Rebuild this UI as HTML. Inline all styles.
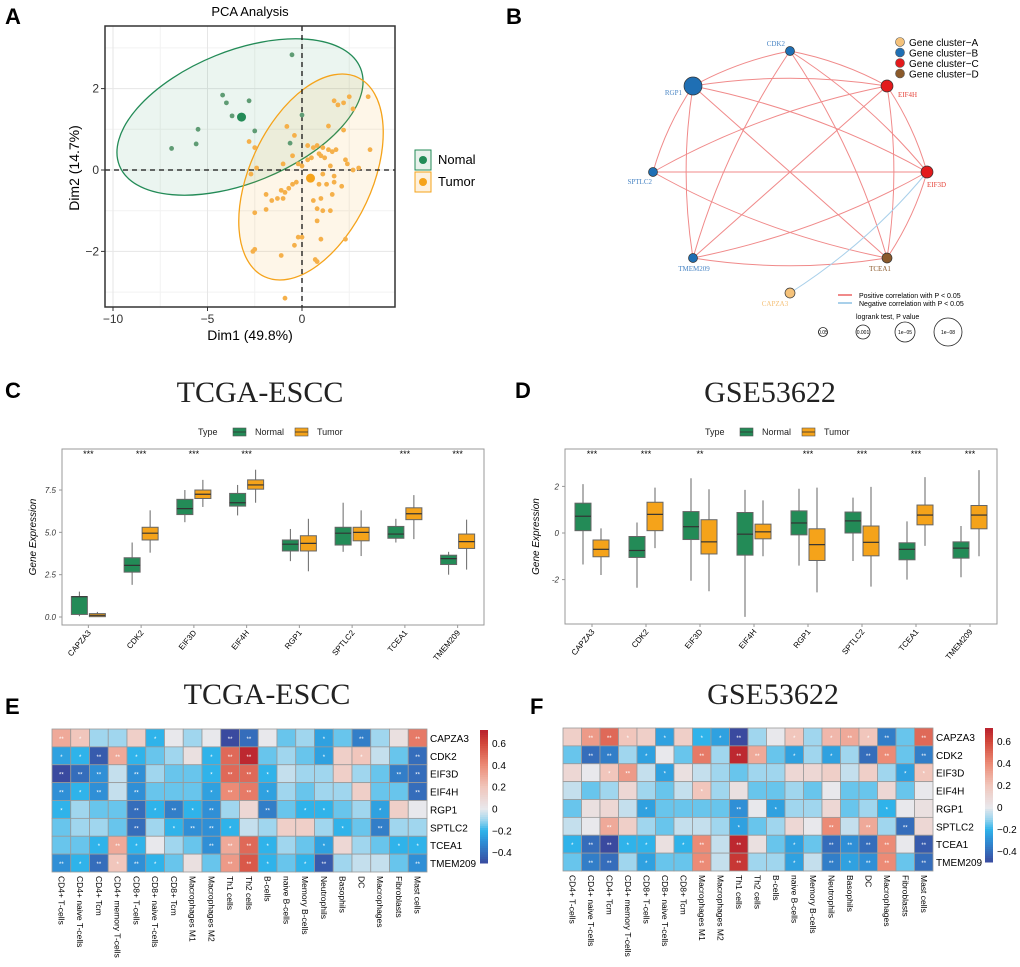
<!DOCTYPE html>
<html><head><meta charset="utf-8"><title>Multi-panel figure</title>
<style>
html,body{margin:0;padding:0;background:#fff;}
svg{display:block;font-family:"Liberation Sans",sans-serif;}
</style></head>
<body>
<svg id="fig" width="1020" height="967" viewBox="0 0 1020 967" xmlns="http://www.w3.org/2000/svg"></svg>
<script>
// ---------- Panel A data ----------
const pcaNormal = [[-0.53,2.83],[-4.2,1.84],[-4.0,1.65],[-2.8,1.7],[-3.7,1.33],[-5.5,1.0],[-6.9,0.53],[-5.6,0.64],[-2.5,0.96],[-0.63,0.66],[0.0,1.35]];
const pcaTumor = [[1.7,1.7],[2.5,1.8],[3.5,1.8],[1.9,1.6],[2.2,1.65],[2.7,1.5],[-0.8,1.07],[1.4,1.08],[2.2,0.98],[-0.4,0.85],[-2.8,0.7],[-2.5,0.55],[-0.5,0.35],[0.8,0.6],[1.1,0.55],[1.4,0.5],[1.6,0.45],[1.8,0.5],[3.6,0.5],[0.3,0.6],[0.6,0.55],[0.9,0.4],[1.0,0.35],[1.2,0.3],[0.5,0.3],[0.3,0.25],[2.3,0.25],[2.4,0.15],[-0.2,0.15],[0.0,0.1],[-1.0,0.15],[-2.4,0.05],[1.5,0.1],[2.7,0.0],[3.0,0.05],[-2.7,-0.1],[-0.3,-0.3],[1.1,-0.1],[1.7,-0.15],[0.9,-0.35],[1.3,-0.35],[1.7,-0.3],[2.1,-0.4],[-0.5,-0.35],[-0.7,-0.45],[-0.9,-0.55],[-1.1,-0.5],[-1.9,-0.6],[-1.0,-0.7],[-1.3,-0.7],[-1.6,-0.75],[0.6,-0.75],[1.0,-0.7],[1.6,-0.6],[0.8,-0.95],[1.1,-1.0],[1.5,-1.0],[-2.5,-1.05],[-1.9,-0.97],[0.8,-1.25],[0.0,-1.65],[-0.2,-1.65],[1.0,-1.7],[2.3,-1.7],[-0.4,-1.85],[-2.5,-1.95],[-2.6,-2.0],[-1.1,-2.1],[0.7,-2.2],[0.8,-2.25],[-0.9,-3.15]];
const pcaCentroids = [[-3.2,1.3],[0.45,-0.2]];
const pcaXTicks = [-10,-5,0];
const pcaYTicks = [-2,0,2];

// ---------- Panel B data ----------
const netNodes = ['CDK2','RGP1','EIF4H','SPTLC2','EIF3D','TMEM209','TCEA1','CAPZA3'];
const netCluster = ['B','B','C','B','C','B','D','A'];
const netSize = [4.5,9,6,4.5,6,4.5,5,5];
const netPos = [[790,51],[693,86],[887,86],[653,172],[927,172],[693,258],[887,258],[790,293]];
const netEdges = [['CDK2','RGP1'],['CDK2','EIF4H'],['CDK2','EIF3D'],['CDK2','TCEA1'],['CDK2','TMEM209'],['RGP1','EIF4H'],['RGP1','EIF3D'],['RGP1','TCEA1'],['RGP1','SPTLC2'],['RGP1','TMEM209'],['EIF4H','EIF3D'],['EIF4H','SPTLC2'],['EIF4H','TMEM209'],['EIF4H','TCEA1'],['SPTLC2','EIF3D'],['SPTLC2','TCEA1'],['EIF3D','TMEM209'],['EIF3D','TCEA1'],['TMEM209','TCEA1']];
const netNegEdges = [['EIF3D','CAPZA3']];

// ---------- Panel C data (lo,q1,med,q3,hi) ----------
const genes = ['CAPZA3','CDK2','EIF3D','EIF4H','RGP1','SPTLC2','TCEA1','TMEM209'];
const cNormal = [[0.05,0.15,1.2,1.2,1.5],[1.9,2.65,3.05,3.5,4.4],[5.6,6.05,6.4,6.95,7.5],[6.0,6.55,6.75,7.3,7.8],[3.3,3.9,4.3,4.55,5.2],[3.85,4.25,4.95,5.3,6.75],[4.4,4.65,4.9,5.35,5.8],[2.5,3.1,3.45,3.65,3.85]];
const cTumor = [[0,0.02,0.1,0.2,0.3],[3.8,4.55,4.95,5.3,6.3],[6.5,7.0,7.25,7.5,8.1],[6.75,7.55,7.8,8.1,8.7],[2.7,3.9,4.35,4.8,5.8],[3.6,4.5,5.0,5.3,6.3],[4.6,5.75,6.1,6.45,7.2],[2.8,4.05,4.45,4.9,5.75]];
const cStars = ['***','***','***','***','','','***','***'];
const cTicks = [0,2.5,5,7.5];
const cTickLabels = ['0.0','2.5','5.0','7.5'];

// ---------- Panel D data ----------
const dNormal = [[-1.35,0.1,0.72,1.28,2.1],[-2.35,-1.05,-0.75,-0.15,0.45],[-2.05,-0.28,0.27,0.92,2.35],[-3.6,-0.95,-0.05,0.88,1.85],[-1.4,-0.08,0.43,0.95,1.9],[-1.2,0.0,0.52,0.9,1.52],[-2.0,-1.15,-0.7,-0.42,0.5],[-1.9,-1.08,-0.65,-0.38,0.3]];
const dTumor = [[-1.8,-1.02,-0.7,-0.3,0.2],[-0.65,0.1,0.8,1.32,1.95],[-2.5,-0.9,-0.38,0.57,1.88],[-1.0,-0.25,0.05,0.38,1.4],[-2.55,-1.18,-0.5,0.18,1.95],[-2.3,-0.98,-0.4,0.3,1.98],[-0.55,0.35,0.77,1.2,2.4],[-1.0,0.18,0.77,1.18,2.7]];
const dStars = ['***','***','**','','***','***','***','***'];
const dTicks = [-2,0,2];
const dTickLabels = ['-2','0','2'];

// ---------- Panels E/F data ----------
const cells = ['CD4+ T-cells','CD4+ naive T-cells','CD4+ Tcm','CD4+ memory T-cells','CD8+ T-cells','CD8+ naive T-cells','CD8+ Tcm','Macrophages M1','Macrophages M2','Th1 cells','Th2 cells','B-cells','naive B-cells','Memory B-cells','Neutrophils','Basophils','DC','Macrophages','Fibroblasts','Mast cells'];
const eVals = [
[0.3,0.2,-0.1,-0.1,0.15,-0.2,0.0,-0.1,0.0,-0.5,-0.4,0.0,-0.15,-0.1,-0.25,-0.15,-0.35,-0.1,0.05,0.45],
[-0.25,-0.2,-0.45,0.3,-0.2,-0.15,-0.1,0.05,-0.2,0.5,0.7,-0.15,-0.1,-0.15,-0.25,0.15,0.2,-0.05,-0.15,-0.4],
[-0.5,-0.4,-0.3,-0.05,-0.3,-0.1,-0.15,-0.15,-0.2,0.5,0.5,-0.2,-0.05,-0.1,-0.1,0.15,-0.1,-0.15,-0.35,-0.4],
[-0.3,-0.2,-0.3,-0.05,-0.3,-0.15,-0.15,-0.15,-0.25,0.4,0.45,-0.25,-0.1,-0.15,-0.1,-0.1,0.15,-0.15,-0.15,-0.4],
[-0.2,-0.1,-0.15,-0.15,-0.4,-0.2,-0.35,-0.2,-0.3,-0.1,0.1,-0.35,-0.15,-0.2,-0.2,-0.15,-0.1,-0.25,0.15,0.0],
[-0.15,-0.1,-0.1,-0.15,-0.4,-0.1,-0.2,-0.3,-0.3,-0.2,-0.05,-0.1,0.15,0.15,-0.1,-0.2,-0.15,-0.35,-0.1,-0.1],
[-0.15,-0.15,-0.2,0.3,-0.2,0.0,-0.1,-0.15,-0.3,0.3,0.5,-0.2,-0.1,-0.15,-0.25,0.1,-0.1,-0.15,-0.2,-0.2],
[-0.3,-0.2,-0.4,0.2,-0.3,-0.2,-0.15,0.05,-0.15,0.35,0.55,-0.2,-0.15,-0.2,-0.45,-0.1,-0.05,-0.05,-0.15,-0.3]];
const fVals = [
[0.15,0.35,0.5,0.2,0.15,-0.25,0.15,-0.2,-0.25,-0.55,-0.1,0.0,0.2,-0.1,0.25,0.3,0.2,-0.35,-0.15,0.5],
[-0.15,-0.4,-0.35,-0.1,-0.25,0.0,-0.15,0.45,-0.1,0.7,0.3,-0.15,-0.25,-0.1,-0.25,-0.1,-0.4,0.4,-0.15,-0.35],
[0.1,0.0,0.2,0.35,-0.05,-0.25,0.05,-0.05,-0.1,-0.15,-0.1,-0.1,0.1,0.1,0.15,-0.05,0.15,-0.1,-0.25,0.2],
[-0.05,-0.15,-0.1,0.1,-0.1,-0.15,-0.05,0.2,-0.1,0.05,-0.15,-0.15,-0.1,-0.15,0.0,-0.15,-0.15,0.1,-0.15,0.0],
[-0.15,0.05,0.1,-0.05,-0.25,-0.15,-0.15,-0.15,-0.15,-0.3,0.0,-0.25,-0.1,-0.1,0.1,-0.15,-0.1,-0.2,0.0,0.05],
[-0.05,0.0,0.3,0.15,-0.1,-0.15,-0.05,-0.05,-0.1,-0.25,-0.15,-0.1,0.1,0.0,0.4,-0.05,0.3,-0.1,-0.4,0.1],
[-0.2,-0.4,-0.5,-0.2,-0.2,0.05,-0.2,0.4,-0.05,0.7,0.05,-0.15,-0.25,-0.15,-0.4,-0.3,-0.4,0.4,0.0,-0.45],
[-0.15,-0.35,-0.4,-0.1,-0.25,-0.15,-0.15,0.4,-0.05,0.65,-0.1,-0.1,-0.25,-0.05,-0.35,-0.25,-0.3,0.4,-0.15,-0.4]];
const cbTicks = [0.6,0.4,0.2,0,-0.2,-0.4];
const cbTickLabels = ['0.6','0.4','0.2','0','\u22120.2','\u22120.4'];

// ---------- helpers ----------
const NS='http://www.w3.org/2000/svg';
const svg=document.getElementById('fig');
function mk(tag,attrs,parent){const e=document.createElementNS(NS,tag);for(const k in attrs)e.setAttribute(k,attrs[k]);(parent||svg).appendChild(e);return e;}
function txt(s,attrs,parent){const e=mk('text',attrs,parent);e.textContent=s;return e;}
const GREEN='#238b57', ORANGE='#f5a31a';

[['A',5,24],['B',506,24],['C',5,398],['D',515,398],['E',5,714],['F',530,714]].forEach(l=>{
  const t=txt(l[0],{x:l[1],y:l[2],'font-size':22,'font-weight':'bold'});
  
  
});

// ---------- Panel A ----------
(function(){
  const g=mk('g',{});
  
  
  const X=v=>302+v*18.9, Y=v=>170-v*40.7;
  const t=txt('PCA Analysis',{x:250,y:16,'font-size':13,'text-anchor':'middle'},g);
  
  
  [-7.5,-2.5,2.5].forEach(v=>mk('line',{x1:X(v),x2:X(v),y1:26,y2:307,stroke:'#f2f2f2'},g));
  [-3,-1,1,3].forEach(v=>mk('line',{x1:105,x2:395,y1:Y(v),y2:Y(v),stroke:'#f2f2f2'},g));
  pcaXTicks.forEach(v=>{mk('line',{x1:X(v),x2:X(v),y1:26,y2:307,stroke:'#e6e6e6'},g);
    mk('line',{x1:X(v),x2:X(v),y1:307,y2:311,stroke:'#333'},g);
    const tl=txt(v<0?'\u2212'+(-v):String(v),{x:X(v),y:323,'font-size':12,'text-anchor':'middle',fill:'#333'},g);
    
    });
  pcaYTicks.forEach(v=>{mk('line',{x1:105,x2:395,y1:Y(v),y2:Y(v),stroke:'#e6e6e6'},g);
    mk('line',{x1:101,x2:105,y1:Y(v),y2:Y(v),stroke:'#333'},g);
    const tl=txt(v<0?'\u2212'+(-v):String(v),{x:99,y:Y(v)+4,'font-size':12,'text-anchor':'end',fill:'#333'},g);
    
    });
  const e1=mk('ellipse',{cx:240,cy:117,rx:130,ry:66,transform:'rotate(-22 240 117)',fill:'rgba(35,139,87,0.09)',stroke:GREEN,'stroke-width':1.3},g);
  
  
  const e2=mk('ellipse',{cx:311,cy:177,rx:61,ry:110,transform:'rotate(25 311 177)',fill:'rgba(245,163,26,0.10)',stroke:ORANGE,'stroke-width':1.3},g);
  
  
  mk('line',{x1:X(0),x2:X(0),y1:26,y2:307,stroke:'#111','stroke-width':1.3,'stroke-dasharray':'5,4'},g);
  mk('line',{x1:105,x2:395,y1:Y(0),y2:Y(0),stroke:'#111','stroke-width':1.3,'stroke-dasharray':'5,4'},g);
  pcaNormal.forEach(p=>{const c=mk('circle',{cx:X(p[0]),cy:Y(p[1]),r:2.4,fill:'#5f9c74'},g);
    
    });
  pcaTumor.forEach(p=>{const c=mk('circle',{cx:X(p[0]),cy:Y(p[1]),r:2.4,fill:'#f5b04a'},g);
    
    });
  const c1=mk('circle',{cx:X(pcaCentroids[0][0]),cy:Y(pcaCentroids[0][1]),r:4.5,fill:GREEN},g);
  
  
  const c2=mk('circle',{cx:X(pcaCentroids[1][0]),cy:Y(pcaCentroids[1][1]),r:4.5,fill:ORANGE},g);
  
  
  mk('rect',{x:105,y:26,width:290,height:281,fill:'none',stroke:'#333','stroke-width':1.5},g);
  const xl=txt('Dim1 (49.8%)',{x:250,y:340,'font-size':14,'text-anchor':'middle'},g);
  
  
  const yl=txt('Dim2 (14.7%)',{x:0,y:0,'font-size':14,'text-anchor':'middle',transform:'translate(79 168) rotate(-90)'},g);
  
  
  [['Nomal',GREEN,150],['Tumor',ORANGE,172]].forEach(l=>{
    const lg=mk('g',{},g);
    
    
    mk('rect',{x:415,y:l[2],width:16,height:20,fill:l[1]==GREEN?'#e8f1eb':'#fdf1de',stroke:l[1],'stroke-width':1},lg);
    mk('circle',{cx:423,cy:l[2]+10,r:4,fill:l[1]},lg);
    txt(l[0],{x:438,y:l[2]+14,'font-size':13},lg);
  });
})();

// ---------- Panel B ----------
(function(){
  const g=mk('g',{});
  
  
  const col={A:'#f5c27a',B:'#1f6fb4',C:'#e31a1c',D:'#8b5a2b'};
  const lblCol={A:'#f5c27a',B:'#4a86c5',C:'#e6443a',D:'#8b5a2b'};
  const P=n=>netPos[netNodes.indexOf(n)];
  const cx=790,cy=172;
  function curve(a,b,color,w,name){
    const p=P(a),q=P(b);const mx=(p[0]+q[0])/2,my=(p[1]+q[1])/2;
    let dx=mx-cx,dy=my-cy;const d=Math.hypot(dx,dy)||1;
    const L=Math.hypot(q[0]-p[0],q[1]-p[1]);const off=L*0.08;
    const e=mk('path',{d:`M${p[0]},${p[1]} Q${mx+dx/d*off},${my+dy/d*off} ${q[0]},${q[1]}`,fill:'none',stroke:color,'stroke-width':w},g);
    
    
  }
  netEdges.forEach(e=>curve(e[0],e[1],'#f08a8a',1,'positive-edge'));
  netNegEdges.forEach(e=>curve(e[0],e[1],'#a9d0ea',1,'negative-edge'));
  const lp={CDK2:[785,46,'end'],RGP1:[682,95,'end'],EIF4H:[898,97,'start'],SPTLC2:[652,184,'end'],EIF3D:[927,187,'start'],TMEM209:[694,271,'middle'],TCEA1:[880,271,'middle'],CAPZA3:[775,306,'middle']};
  netNodes.forEach((n,i)=>{
    const c=mk('circle',{cx:netPos[i][0],cy:netPos[i][1],r:netSize[i],fill:col[netCluster[i]],stroke:'#333','stroke-width':0.7},g);
    
    
    const l=lp[n];
    const t=txt(n,{x:l[0],y:l[1],'font-size':7,'text-anchor':l[2],fill:lblCol[netCluster[i]],'font-family':'Liberation Serif, serif'},g);
    
    
  });
  ['A','B','C','D'].forEach((k,i)=>{
    const lg=mk('g',{},g);
    
    
    mk('circle',{cx:900,cy:42+i*10.5,r:4.5,fill:col[k],stroke:'#555','stroke-width':0.6},lg);
    txt('Gene cluster\u2212'+k,{x:909,y:46+i*10.5,'font-size':10},lg);
  });
  const l1=mk('g',{},g);
  
  
  mk('line',{x1:838,x2:852,y1:295,y2:295,stroke:'#f08a8a','stroke-width':2},l1);
  txt('Positive correlation with P < 0.05',{x:859,y:298,'font-size':7},l1);
  const l2=mk('g',{},g);
  
  
  mk('line',{x1:838,x2:852,y1:303,y2:303,stroke:'#a9d0ea','stroke-width':2},l2);
  txt('Negative correlation with P < 0.05',{x:859,y:306,'font-size':7},l2);
  const lt=txt('logrank test, P value',{x:856,y:319,'font-size':7},g);
  
  
  [['0.05',823,4.5],['0.001',863,7],['1e\u221205',905,10],['1e\u221208',948,14]].forEach(s=>{
    const sg=mk('g',{},g);
    
    
    mk('circle',{cx:s[1],cy:332,r:s[2],fill:'none',stroke:'#222','stroke-width':0.8},sg);
    txt(s[0],{x:s[1],y:334,'font-size':5,'text-anchor':'middle'},sg);
  });
})();

// ---------- Boxplot panels ----------
function boxPanel(o){
  const g=mk('g',{});
  
  
  const Y=v=>o.y0-(v-o.v0)*o.ppu;
  const t=txt(o.title,{x:o.titleX,y:402,'font-size':30,'text-anchor':'middle','font-family':'Liberation Serif, serif',fill:'#222'},g);
  
  
  const lx=o.legX;
  const lg=mk('g',{},g);
  
  
  txt('Type',{x:lx,y:435,'font-size':9,fill:'#222'},lg);
  [[GREEN,'Normal',lx+35],[ORANGE,'Tumor',lx+97]].forEach(e=>{
    mk('rect',{x:e[2],y:428,width:13,height:8,fill:e[0],stroke:'#555','stroke-width':0.6},lg);
    mk('line',{x1:e[2],x2:e[2]+13,y1:432,y2:432,stroke:'#333','stroke-width':0.8},lg);
    txt(e[1],{x:e[2]+22,y:435,'font-size':9,fill:'#222'},lg);
  });
  mk('rect',{x:o.x0,y:o.top,width:o.x1-o.x0,height:o.bot-o.top,fill:'none',stroke:'#999','stroke-width':1},g);
  o.ticks.forEach((v,i)=>{
    mk('line',{x1:o.x0-3,x2:o.x0,y1:Y(v),y2:Y(v),stroke:'#999'},g);
    const tl=txt(o.tickLabels[i],{x:o.x0-6,y:Y(v)+3,'font-size':8,'text-anchor':'end',fill:'#333','font-style':'italic'},g);
    
    
  });
  const yl=txt('Gene Expression',{x:0,y:0,'font-size':10,'font-style':'italic','text-anchor':'middle',transform:`translate(${o.x0-26} ${(o.top+o.bot)/2}) rotate(-90)`},g);
  
  
  const step=(o.x1-o.x0)/genes.length;
  genes.forEach((gn,i)=>{
    const cx=o.x0+step*(i+0.5);
    mk('line',{x1:cx,x2:cx,y1:o.bot,y2:o.bot+3,stroke:'#999'},g);
    const tl=txt(gn,{x:0,y:0,'font-size':8,'text-anchor':'end',transform:`translate(${cx+3} ${o.bot+8}) rotate(-50)`},g);
    
    
    if(o.stars[i]){const s=txt(o.stars[i],{x:cx,y:o.top+8,'font-size':9,'text-anchor':'middle'},g);
      
      }
    [[o.normal[i],GREEN,-9,'normal'],[o.tumor[i],ORANGE,9,'tumor']].forEach(b=>{
      const d=b[0],x=cx+b[2],w=16;
      const bg=mk('g',{},g);
      
      
      mk('line',{x1:x,x2:x,y1:Y(d[0]),y2:Y(d[4]),stroke:'#666','stroke-width':1},bg);
      mk('rect',{x:x-w/2,y:Y(d[3]),width:w,height:Math.max(1,Y(d[1])-Y(d[3])),fill:b[1],stroke:'#666','stroke-width':1},bg);
      mk('line',{x1:x-w/2,x2:x+w/2,y1:Y(d[2]),y2:Y(d[2]),stroke:'#333','stroke-width':1.2},bg);
    });
  });
}
boxPanel({name:'boxplot-tcga',title:'TCGA-ESCC',titleX:260,legX:198,x0:62,x1:484,top:449,bot:625,y0:617,v0:0,ppu:16.93,normal:cNormal,tumor:cTumor,stars:cStars,ticks:cTicks,tickLabels:cTickLabels});
boxPanel({name:'boxplot-gse',title:'GSE53622',titleX:770,legX:705,x0:565,x1:997,top:449,bot:624,y0:533,v0:0,ppu:23.3,normal:dNormal,tumor:dTumor,stars:dStars,ticks:dTicks,tickLabels:dTickLabels});

// ---------- Heatmaps ----------
const stops=[[-0.5,[58,74,159]],[-0.3,[47,143,214]],[-0.2,[47,179,234]],[-0.1,[160,214,238]],[0,[232,232,236]],[0.2,[241,198,188]],[0.4,[236,139,118]],[0.6,[210,71,58]],[0.75,[178,24,43]]];
function colr(v){
  if(v<=stops[0][0])return `rgb(${stops[0][1]})`;
  for(let i=1;i<stops.length;i++){if(v<=stops[i][0]){const a=stops[i-1],b=stops[i];const t=(v-a[0])/(b[0]-a[0]);
    return 'rgb('+a[1].map((c,k)=>Math.round(c+(b[1][k]-c)*t)).join(',')+')';}}
  return `rgb(${stops[stops.length-1][1]})`;
}
function heatPanel(o){
  const g=mk('g',{});
  
  
  const t=txt(o.title,{x:o.titleX,y:704,'font-size':30,'text-anchor':'middle','font-family':'Liberation Serif, serif',fill:'#222'},g);
  
  
  const cw=(o.x1-o.x0)/cells.length, rh=(o.y1-o.y0)/genes.length;
  o.vals.forEach((row,r)=>row.forEach((v,c)=>{
    const cell=mk('rect',{x:o.x0+c*cw,y:o.y0+r*rh,width:cw,height:rh,fill:colr(v),stroke:'#9a9a9a','stroke-width':0.8},g);
    
    
    if(Math.abs(v)>=0.2){const s=txt(Math.abs(v)>=0.3?'**':'*',{x:o.x0+(c+0.5)*cw,y:o.y0+(r+0.5)*rh+3,'font-size':6,'text-anchor':'middle',fill:'#fff'},g);
      
      }
  }));
  genes.forEach((gn,r)=>{const l=txt(gn,{x:o.x1+3,y:o.y0+(r+0.5)*rh+4,'font-size':10},g);
    
    });
  cells.forEach((cn,c)=>{const l=txt(cn,{x:0,y:0,'font-size':8.5,transform:`translate(${o.x0+(c+0.5)*cw-3} ${o.y1+4}) rotate(90)`},g);
    
    });
  const cb=mk('g',{},g);
  
  
  const vMin=-0.5,vMax=0.72,CB=v=>o.cbBot-(v-vMin)/(vMax-vMin)*(o.cbBot-o.cbTop);
  for(let k=0;k<60;k++){const v0=vMin+(vMax-vMin)*k/60,v1=vMin+(vMax-vMin)*(k+1)/60;
    mk('rect',{x:o.cbX,y:CB(v1),width:8,height:CB(v0)-CB(v1)+0.5,fill:colr((v0+v1)/2)},cb);}
  cbTicks.forEach((v,i)=>{const l=txt(cbTickLabels[i],{x:o.cbX+12,y:CB(v)+4,'font-size':10},cb);
    
    });
}
heatPanel({name:'heatmap-tcga',title:'TCGA-ESCC',titleX:267,x0:52,x1:427,y0:729,y1:872,vals:eVals,cbX:480,cbTop:730,cbBot:863});
heatPanel({name:'heatmap-gse',title:'GSE53622',titleX:773,x0:563,x1:933,y0:728,y1:871,vals:fVals,cbX:985,cbTop:728,cbBot:862});
</script>
</body></html>
